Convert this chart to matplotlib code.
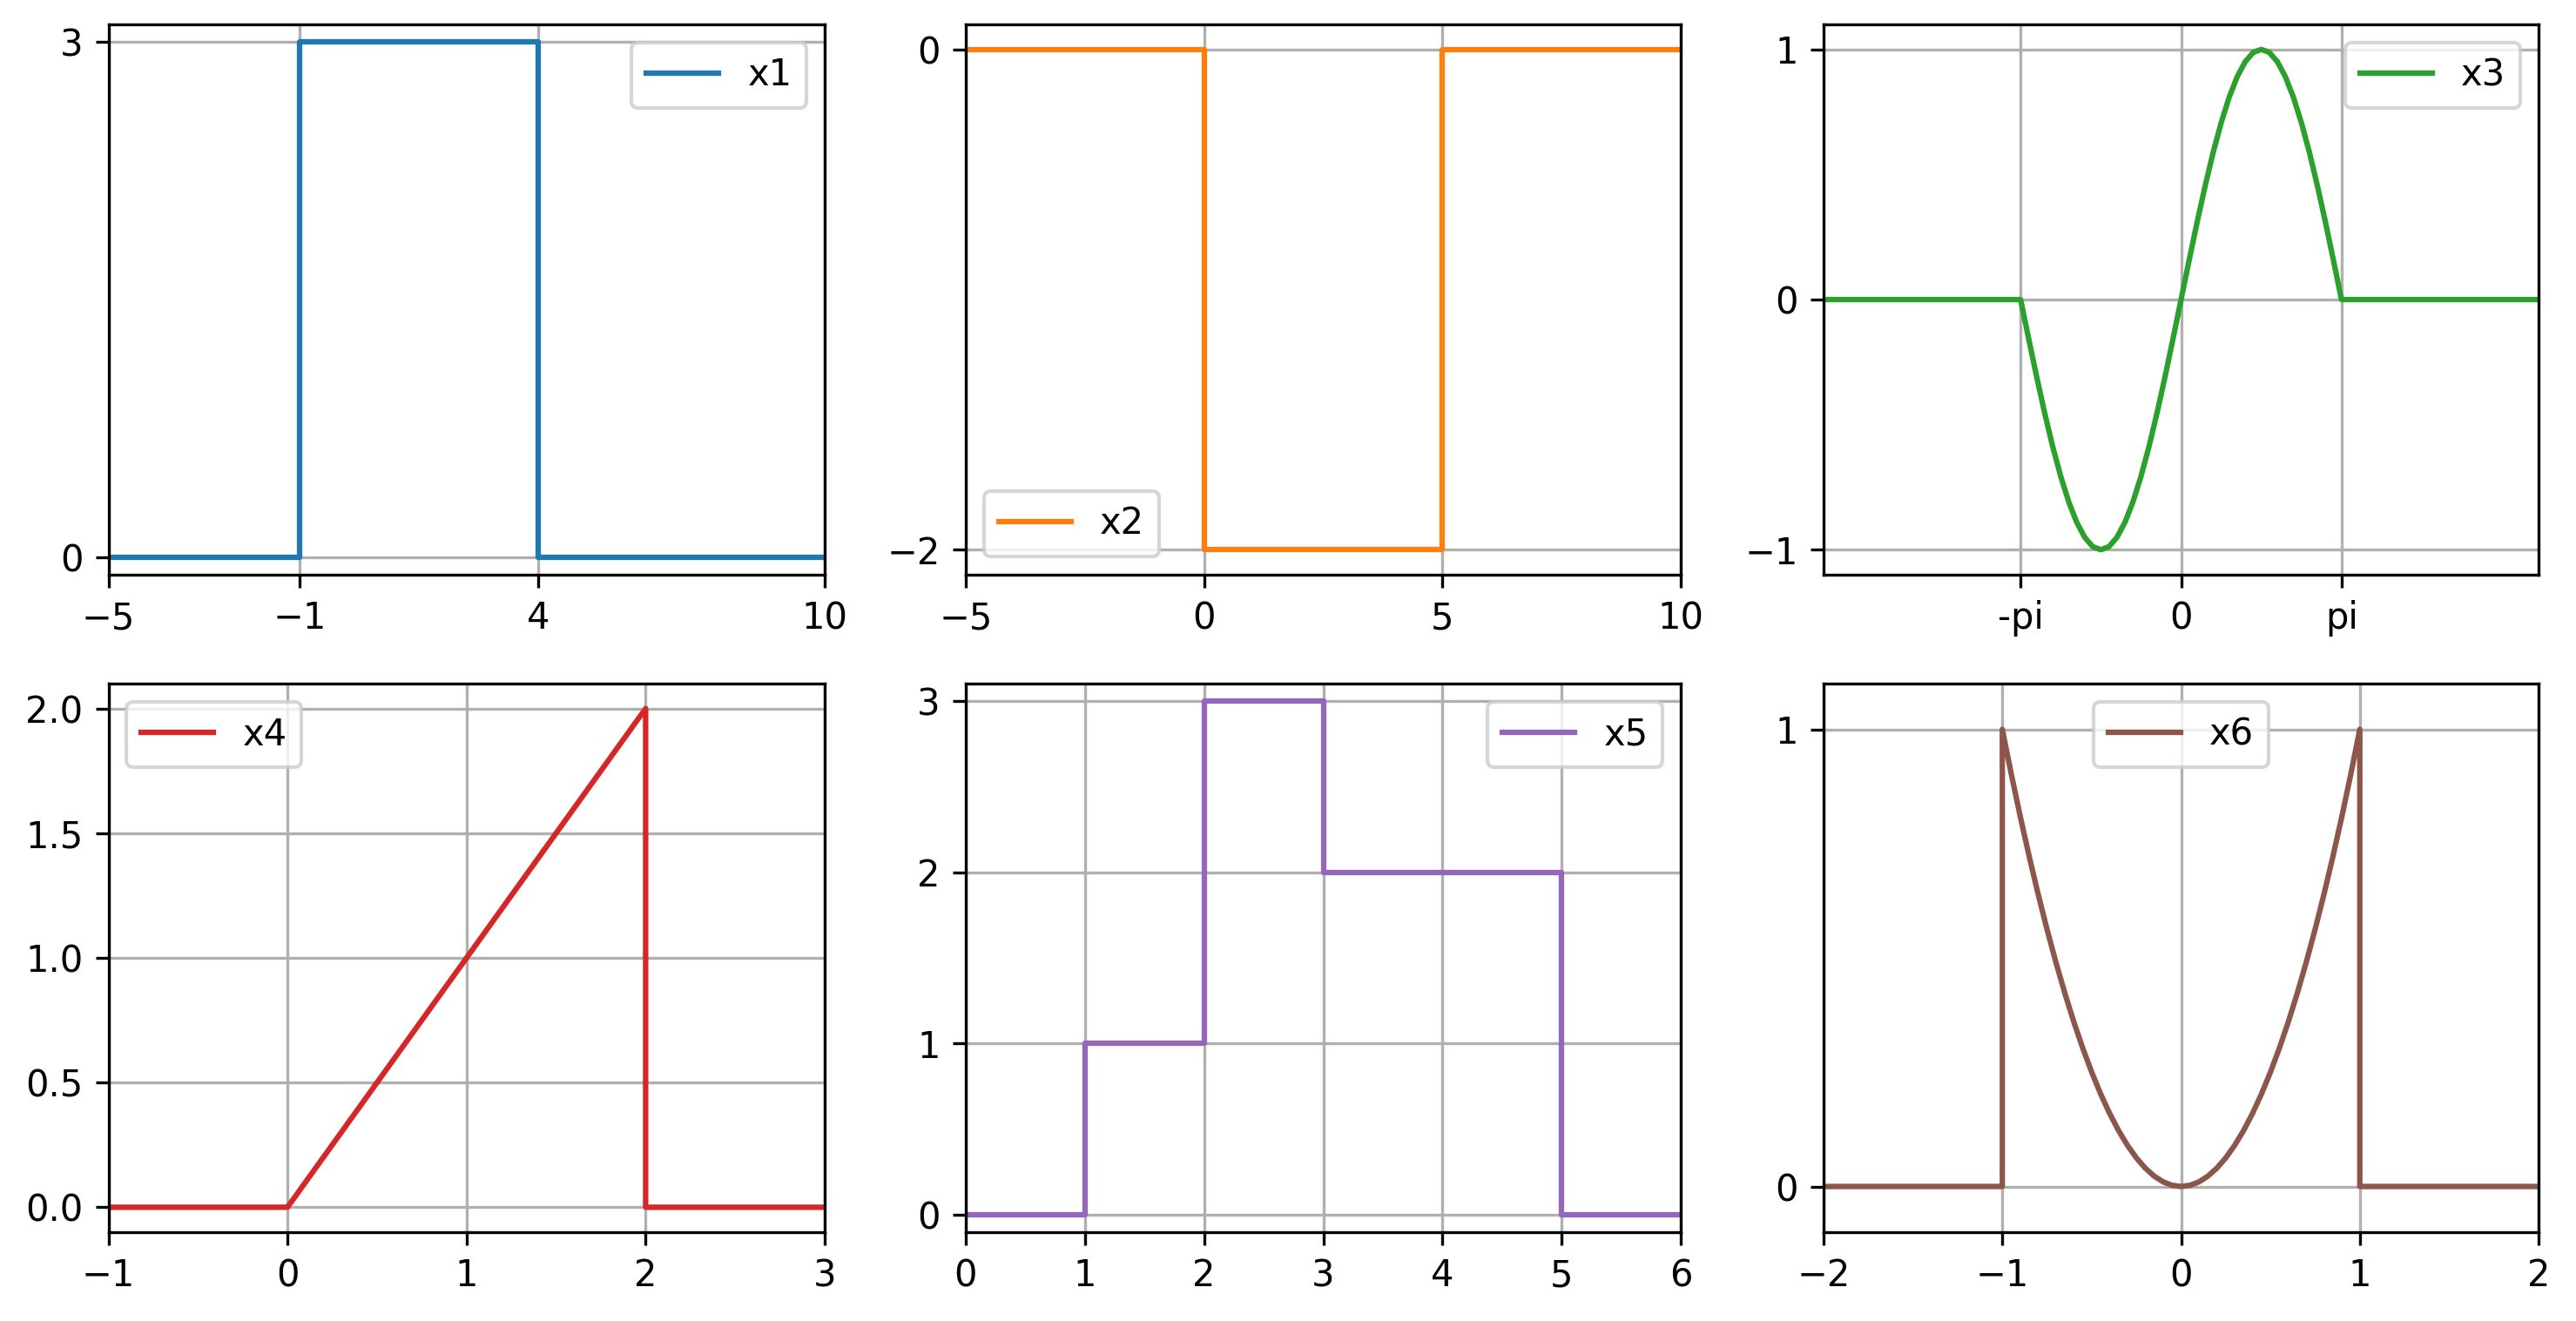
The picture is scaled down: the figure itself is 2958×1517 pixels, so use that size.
import numpy as np
import matplotlib.pyplot as plt

# x1: rectangular pulse
x1_t = [-5, -1, -1, 4, 4, 10]
x1_v = [0, 0, 3, 3, 0, 0]

# x2: negative pulse
x2_t = [-5, 0, 0, 5, 5, 10]
x2_v = [0, 0, -2, -2, 0, 0]

# x3: one period of a sine between -pi and pi, zero outside
x3_side_t = [-7, 7]
x3_mid = [0, 0.156, 0.309, 0.454, 0.588, 0.707, 0.809, 0.891, 0.951, 0.988, 1.0,
          0.988, 0.951, 0.891, 0.809, 0.707, 0.588, 0.454, 0.309, 0.156, 0]
x3_v = [-v for v in x3_mid] + x3_mid[1:]

# x4: ramp
x4_t = [-1, 0, 2, 2, 3]
x4_v = [0, 0, 2, 0, 0]

# x5: staircase
x5_t = [0, 1, 2, 3, 5, 6]
x5_v = [0, 1, 3, 2, 0, 0]

# x6: parabola on [-1, 1], zero outside
x6_side_t = [-2, 2]
x6_half = [1.0, 0.9025, 0.81, 0.7225, 0.64, 0.5625, 0.49, 0.4225, 0.36, 0.3025, 0.25,
           0.2025, 0.16, 0.1225, 0.09, 0.0625, 0.04, 0.0225, 0.01, 0.0025, 0]
x6_v = x6_half + x6_half[::-1][1:]

W, H = 2958, 1517
fig = plt.figure(figsize=(W / 300, H / 300), dpi=300)

cols = [(124.5, 947), (1109, 1930), (2094, 2915)]
rows = [(28, 660), (785, 1415)]
axs = []
for r in rows:
    for c in cols:
        ax = fig.add_axes([c[0] / W, 1 - r[1] / H, (c[1] - c[0]) / W, (r[1] - r[0]) / H])
        axs.append(ax)

C = plt.rcParams['axes.prop_cycle'].by_key()['color']

ax = axs[0]
ax.plot(x1_t, x1_v, color=C[0], label='x1')
ax.set_xlim(-5, 10)
ax.set_ylim(-0.1, 3.1)
ax.set_xticks([-5, -1, 4, 10])
ax.set_yticks([0, 3])
ax.legend(loc='upper right')

ax = axs[1]
ax.plot(x2_t, x2_v, color=C[1], label='x2')
ax.set_xlim(-5, 10)
ax.set_ylim(-2.1, 0.1)
ax.set_xticks([-5, 0, 5, 10])
ax.set_yticks([0, -2])
ax.legend(loc='lower left')

ax = axs[2]
t3 = np.concatenate([[x3_side_t[0]], np.linspace(-np.pi, np.pi, len(x3_v)), [x3_side_t[1]]])
v3 = [0] + x3_v + [0]
ax.plot(t3, v3, color=C[2], label='x3')
ax.set_xlim(-7, 7)
ax.set_ylim(-1.1, 1.1)
ax.set_xticks([-np.pi, 0, np.pi])
ax.set_xticklabels(['-pi', '0', 'pi'])
ax.set_yticks([-1, 0, 1])
ax.legend(loc='upper right')

ax = axs[3]
ax.plot(x4_t, x4_v, color=C[3], label='x4')
ax.set_xlim(-1, 3)
ax.set_ylim(-0.1, 2.1)
ax.set_xticks([-1, 0, 1, 2, 3])
ax.legend(loc='upper left')

ax = axs[4]
ax.plot(x5_t, x5_v, color=C[4], drawstyle='steps-post', label='x5')
ax.set_xlim(0, 6)
ax.set_ylim(-0.1, 3.1)
ax.set_yticks([0, 1, 2, 3])
ax.legend(loc='upper right')

ax = axs[5]
t6 = np.concatenate([[x6_side_t[0], -1], np.linspace(-1, 1, len(x6_v)), [1, x6_side_t[1]]])
v6 = [0, 0] + x6_v + [0, 0]
ax.plot(t6, v6, color=C[5], label='x6')
ax.set_xlim(-2, 2)
ax.set_ylim(-0.1, 1.1)
ax.set_xticks([-2, -1, 0, 1, 2])
ax.set_yticks([0, 1])
ax.legend(loc='upper center')

for ax in axs:
    ax.grid(True)

fig.savefig('out.png', dpi=300)
